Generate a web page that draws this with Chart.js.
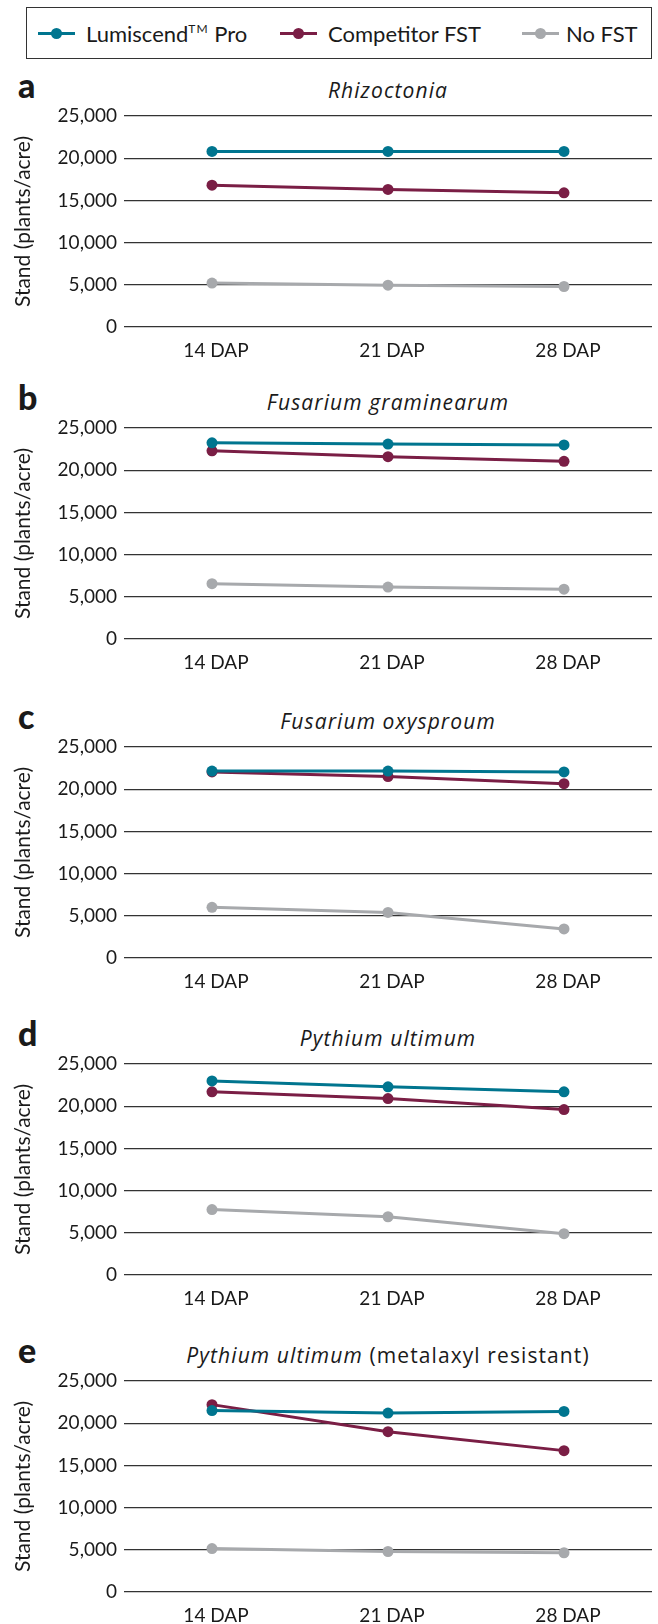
<!DOCTYPE html>
<html>
<head>
<meta charset="utf-8">
<script src="https://cdn.jsdelivr.net/npm/chart.js@4.4.0/dist/chart.umd.min.js"></script>
<style>
  body { margin: 0; background: #fff; font-family: Lato, sans-serif; color: #1a1a1a; }
  #page { position: relative; width: 658px; height: 1624px; overflow: hidden; }
  .panel { position: absolute; left: 0; width: 658px; }
  .ptitle { position: absolute; font-family: "Open Sans", sans-serif; font-size: 21px; line-height: 21px; text-align: center; white-space: nowrap; letter-spacing: 1.1px; }
  .ptitle i { font-style: italic; }
  .letter { position: absolute; left: 18px; font-size: 34px; line-height: 34px; font-weight: 900; }
  #legend { position: absolute; left: 26px; top: 7px; width: 624px; height: 50px; border: 1px solid #333; }
  .lg-mark { position: absolute; height: 3px; }
  .lg-dot { position: absolute; width: 11px; height: 11px; border-radius: 50%; top: -4px; }
  .lg-text { position: absolute; font-size: 22px; line-height: 22px; white-space: nowrap; }
  .lg-text sup { font-size: 12px; letter-spacing: 1px; vertical-align: 9px; line-height: 0; }
</style>
</head>
<body>
<div id="page">
  <div id="legend"></div>
</div>
<script>
// x categories
const categories = ['14 DAP', '21 DAP', '28 DAP'];

// series names and colours (legend order)
const seriesNames = ['Lumiscend<sup>TM</sup> Pro', 'Competitor FST', 'No FST'];
const seriesColors = ['#00758f', '#7a1e45', '#a7a9ac'];

// panels a..e
const panelLetters = ['a', 'b', 'c', 'd', 'e'];
const panelTitles = ['Rhizoctonia', 'Fusarium graminearum', 'Fusarium oxysproum', 'Pythium ultimum', 'Pythium ultimum'];
const panelNotes = ['', '', '', '', '(metalaxyl resistant)'];

// stand (plants/acre), one row per panel, values for 14/21/28 DAP
const lumiscendPro = [
  [20800, 20800, 20800],
  [23250, 23100, 23000],
  [22150, 22150, 22050],
  [23000, 22300, 21700],
  [21500, 21200, 21400],
];
const competitorFst = [
  [16800, 16300, 15900],
  [22300, 21600, 21050],
  [22050, 21500, 20650],
  [21700, 20900, 19600],
  [22200, 19000, 16750],
];
const noFst = [
  [5200, 4950, 4800],
  [6550, 6150, 5900],
  [6000, 5400, 3450],
  [7750, 6900, 4900],
  [5150, 4800, 4650],
];

const yMin = 0;
const yMax = 25000;
const yStep = 5000;

// layout (page pixels)
const gridTops = [116, 428, 747, 1064, 1381];
const PAD_TOP = 12;
const PLOT_H = 211;
const XAXIS_H = 44;
const PLOT_LEFT = 124;
const PLOT_RIGHT = 652;

const page = document.getElementById('page');
const textColor = '#1a1a1a';

// legend
const legend = document.getElementById('legend');
const legendMarks = [38, 280, 522];
const legendTexts = [86, 328, 566];
seriesNames.forEach((name, i) => {
  const mark = document.createElement('div');
  mark.className = 'lg-mark';
  mark.style.left = (legendMarks[i] - 27) + 'px';
  mark.style.top = (33 - 8 - 1.5) + 'px';
  mark.style.width = '37px';
  mark.style.background = seriesColors[i];
  const dot = document.createElement('div');
  dot.className = 'lg-dot';
  dot.style.left = '13px';
  dot.style.background = seriesColors[i];
  mark.appendChild(dot);
  legend.appendChild(mark);

  const txt = document.createElement('div');
  txt.className = 'lg-text';
  txt.style.left = (legendTexts[i] - 27) + 'px';
  txt.style.top = (42 - 19.5 - 8) + 'px';
  txt.innerHTML = name;
  legend.appendChild(txt);
});

panelLetters.forEach((letter, i) => {
  const top = gridTops[i];
  const baseline = top - 18;

  const lt = document.createElement('div');
  lt.className = 'letter';
  lt.style.top = (baseline - 30.2) + 'px';
  lt.textContent = letter;
  page.appendChild(lt);

  const tt = document.createElement('div');
  tt.className = 'ptitle';
  tt.style.left = PLOT_LEFT + 'px';
  tt.style.width = (PLOT_RIGHT - PLOT_LEFT) + 'px';
  tt.style.top = (baseline - 18.4) + 'px';
  tt.innerHTML = '<i>' + panelTitles[i] + '</i>' + (panelNotes[i] ? ' ' + panelNotes[i] : '');
  page.appendChild(tt);

  const wrap = document.createElement('div');
  wrap.className = 'panel';
  wrap.style.top = (top - PAD_TOP) + 'px';
  wrap.style.height = (PAD_TOP + PLOT_H + XAXIS_H) + 'px';
  const cv = document.createElement('canvas');
  wrap.appendChild(cv);
  page.appendChild(wrap);

  const rows = [lumiscendPro[i], competitorFst[i], noFst[i]];
  const datasets = rows.map((vals, k) => ({
    label: seriesNames[k].replace(/<[^>]+>/g, ''),
    data: vals,
    borderColor: seriesColors[k],
    backgroundColor: seriesColors[k],
    pointBackgroundColor: seriesColors[k],
    pointBorderWidth: 0,
    pointRadius: 5.5,
    borderWidth: 3,
    tension: 0,
  }));

  new Chart(cv, {
    type: 'line',
    data: { labels: categories, datasets: datasets },
    options: {
      responsive: true,
      maintainAspectRatio: false,
      animation: false,
      layout: { padding: { top: PAD_TOP, right: 658 - PLOT_RIGHT, left: 0, bottom: 0 } },
      plugins: { legend: { display: false }, tooltip: { enabled: false } },
      scales: {
        x: {
          offset: true,
          grid: { display: false, drawTicks: false },
          border: { display: false },
          ticks: { font: { family: 'Lato', size: 19 }, color: textColor, padding: 12, labelOffset: 4, maxRotation: 0 },
          afterFit: (s) => { s.height = XAXIS_H; s.paddingLeft = 0; s.paddingRight = 0; },
        },
        y: {
          min: yMin,
          max: yMax,
          ticks: {
            stepSize: yStep,
            padding: 7,
            font: { family: 'Lato', size: 19 },
            color: textColor,
            callback: (v) => v.toLocaleString('en-US'),
          },
          grid: { color: '#333', lineWidth: 1.3, drawTicks: false },
          border: { display: false },
          title: {
            display: true,
            text: 'Stand (plants/acre)',
            font: { family: 'Lato', size: 21 },
            color: textColor,
            padding: { top: 11, bottom: 0 },
          },
          afterFit: (s) => { s.width = PLOT_LEFT; s.paddingTop = 0; s.paddingBottom = 0; },
        },
      },
    },
  });
});
</script>
</body>
</html>
